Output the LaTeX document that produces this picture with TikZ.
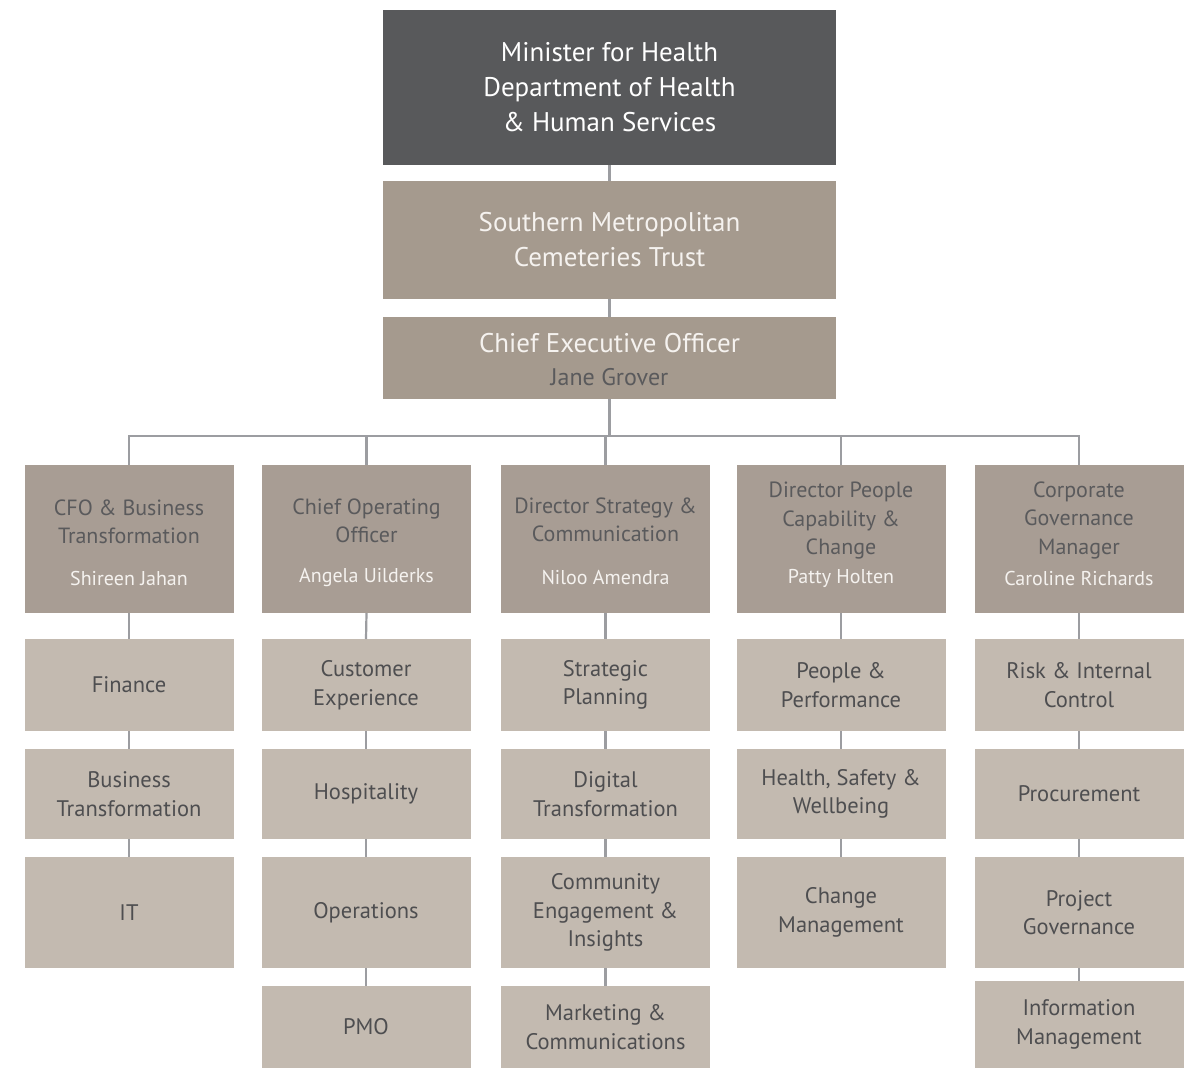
\documentclass[tikz,border=0pt]{standalone}
\usepackage{fontspec}
\setmainfont{PT Sans}
\definecolor{darkbox}{HTML}{58595B}
\definecolor{midbox}{HTML}{A59A8E}
\definecolor{lvltwo}{HTML}{A89D94}
\definecolor{lvlthree}{HTML}{C3BAB0}
\definecolor{linec}{HTML}{9C9DA1}
\definecolor{txtdark}{HTML}{5A5A5C}
\definecolor{txtdeep}{HTML}{4E4E50}
\definecolor{txtlight}{HTML}{F5F2EF}
\tikzset{
  base/.style={rectangle, inner sep=0pt, outer sep=0pt, align=center},
  topbox/.style={base, fill=darkbox, minimum width=453pt, text=white, font=\fontsize{27}{35}\selectfont},
  trustbox/.style={base, fill=midbox, minimum width=453pt, text=txtlight, font=\fontsize{27}{35}\selectfont},
  headbox/.style={base, fill=lvltwo, minimum width=209pt, minimum height=148pt},
  headtitle/.style={base, text=txtdark, font=\fontsize{22}{28.5}\selectfont},
  headname/.style={base, text=txtlight, font=\fontsize{20}{22}\selectfont},
  unitbox/.style={base, fill=lvlthree, minimum width=209pt, text=txtdeep, font=\fontsize{22.5}{28.5}\selectfont},
  conn/.style={draw=linec, line width=2.2pt}
}
\begin{document}
\begin{tikzpicture}[x=1pt,y=-1pt]
\useasboundingbox[fill=white] (0,0) rectangle (1201,1068);
% top chain
\node[topbox, minimum height=155pt] (minister) at (609.5,87.5) {Minister for Health\\Department of Health\\\& Human Services};
\node[trustbox, minimum height=118pt] (trust) at (609.5,240) {Southern Metropolitan\\Cemeteries Trust};
\node[trustbox, minimum height=82pt] (ceo) at (609.5,358) {};
\node[base, text=txtlight, font=\fontsize{27}{35}\selectfont] (ceot) at (609.5,343) {Chief Executive Officer};
\node[base, text=txtdark, font=\fontsize{24}{30}\selectfont] (ceon) at (609.5,377) {Jane Grover};
% heads
\node[headbox] (c1) at (129,539) {};
\node[headbox] (c2) at (366.5,539) {};
\node[headbox] (c3) at (605.5,539) {};
\node[headbox] (c4) at (841,539) {};
\node[headbox] (c5) at (1079,539) {};
\node[headtitle] (c1t) at (129,522) {CFO \& Business\\Transformation};
\node[headtitle] (c2t) at (366.5,521) {Chief Operating\\Officer};
\node[headtitle] (c3t) at (605.5,520) {Director Strategy \&\\Communication};
\node[headtitle] (c4t) at (841,521) {Director People\\Capability \&\\Change};
\node[headtitle] (c5t) at (1079,520) {Corporate\\Governance\\Manager};
\node[headname] (c1n) at (129,578) {Shireen Jahan};
\node[headname] (c2n) at (366.5,578) {Angela Uilderks};
\node[headname] (c3n) at (605.5,578) {Niloo Amendra};
\node[headname] (c4n) at (841,578) {Patty Holten};
\node[headname] (c5n) at (1079,578) {Caroline Richards};
% units column 1
\node[unitbox, minimum height=92pt] (a1) at (129,685) {Finance};
\node[unitbox, minimum height=90pt] (a2) at (129,794) {Business\\Transformation};
\node[unitbox, minimum height=111pt] (a3) at (129,912.5) {IT};
% column 2
\node[unitbox, minimum height=92pt] (b1) at (366,685) {Customer\\Experience};
\node[unitbox, minimum height=90pt] (b2) at (366,794) {Hospitality};
\node[unitbox, minimum height=111pt] (b3) at (366,912.5) {Operations};
\node[unitbox, minimum height=82pt] (b4) at (366,1027) {PMO};
% column 3
\node[unitbox, minimum height=92pt] (d1) at (605.5,685) {Strategic\\Planning};
\node[unitbox, minimum height=90pt] (d2) at (605.5,794) {Digital\\Transformation};
\node[unitbox, minimum height=111pt] (d3) at (605.5,912.5) {Community\\Engagement \&\\Insights};
\node[unitbox, minimum height=82pt] (d4) at (605.5,1027) {Marketing \&\\Communications};
% column 4
\node[unitbox, minimum height=92pt] (e1) at (841,685) {People \&\\Performance};
\node[unitbox, minimum height=90pt] (e2) at (841,794) {Health, Safety \&\\Wellbeing};
\node[unitbox, minimum height=111pt] (e3) at (841,912.5) {Change\\Management};
% column 5
\node[unitbox, minimum height=92pt] (g1) at (1079,685) {Risk \& Internal\\Control};
\node[unitbox, minimum height=90pt] (g2) at (1079,794) {Procurement};
\node[unitbox, minimum height=111pt] (g3) at (1079,912.5) {Project\\Governance};
\node[unitbox, minimum height=87pt] (g4) at (1079,1024.5) {Information\\Management};
% connectors
\draw[conn] (minister.south) -- (trust.north);
\draw[conn] (trust.south) -- (ceo.north);
\coordinate (bus) at (609.5,436);
\draw[conn] (ceo.south) -- (bus);
\draw[conn] (c1.north) -- (c1.north |- bus) -- (c5.north |- bus) -- (c5.north);
\draw[conn] (c2.north) -- (c2.north |- bus);
\draw[conn] (c3.north) -- (c3.north |- bus);
\draw[conn] (c4.north) -- (c4.north |- bus);
\draw[conn] (c1.south) -- (a1.north);
\draw[conn] (a1.south) -- (a2.north);
\draw[conn] (a2.south) -- (a3.north);
\draw[conn] (c2.south) -- (b1.north);
\draw[conn] (b1.south) -- (b2.north);
\draw[conn] (b2.south) -- (b3.north);
\draw[conn] (b3.south) -- (b4.north);
\draw[conn] (c3.south) -- (d1.north);
\draw[conn] (d1.south) -- (d2.north);
\draw[conn] (d2.south) -- (d3.north);
\draw[conn] (d3.south) -- (d4.north);
\draw[conn] (c4.south) -- (e1.north);
\draw[conn] (e1.south) -- (e2.north);
\draw[conn] (e2.south) -- (e3.north);
\draw[conn] (c5.south) -- (g1.north);
\draw[conn] (g1.south) -- (g2.north);
\draw[conn] (g2.south) -- (g3.north);
\draw[conn] (g3.south) -- (g4.north);
\end{tikzpicture}
\end{document}
